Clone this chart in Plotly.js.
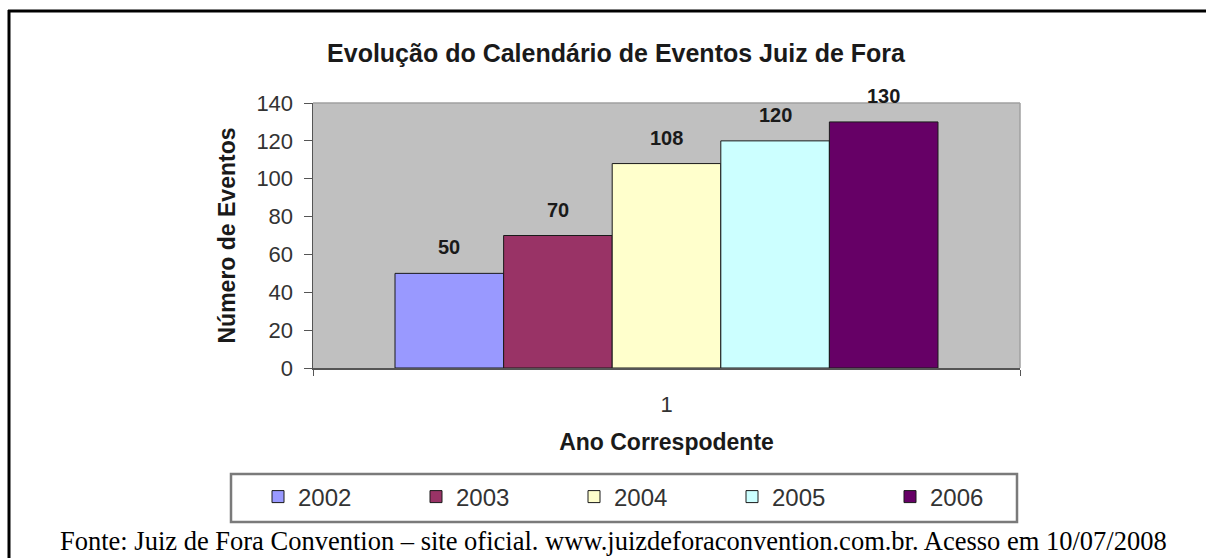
<!DOCTYPE html>
<html>
<head>
<meta charset="utf-8">
<script src="https://cdn.plot.ly/plotly-3.0.1.min.js"></script>
<style>
  html, body { margin: 0; padding: 0; background: #ffffff; }
  #chart { width: 1206px; height: 558px; }
</style>
</head>
<body>
<div id="chart"></div>
<script>
// ---- data ----
const categories = ['1'];
const years = ['2002', '2003', '2004', '2005', '2006'];
const eventos = [50, 70, 108, 120, 130];
const barColors = ['#9999ff', '#993366', '#ffffcc', '#ccffff', '#660066'];
const yTicks = [0, 20, 40, 60, 80, 100, 120, 140];

const titleText = 'Evolução do Calendário de Eventos Juiz de Fora';
const yTitle = 'Número de Eventos';
const xTitle = 'Ano Correspodente';
const footer = 'Fonte: Juiz de Fora Convention – site oficial. www.juizdeforaconvention.com.br. Acesso em 10/07/2008';

// ---- layout geometry ----
const W = 1206, H = 558;
const M = { l: 313, r: 186, t: 103, b: 190 };
const plotW = W - M.l - M.r, plotH = H - M.t - M.b;
const px2x = p => (p - M.l) / plotW;
const px2y = p => (H - M.b - p) / plotH;
const bargap = 0.232;

const FONT = 'Liberation Sans, Arial, sans-serif';

const traces = years.map((yr, i) => ({
  type: 'bar',
  name: yr,
  x: categories,
  y: [eventos[i]],
  marker: { color: barColors[i], line: { color: '#1a1a1a', width: 1 } },
  hoverinfo: 'name+y'
}));

// data labels above bars (position from the group layout)
const groupW = 1 - bargap;
const barW = groupW / years.length;
const annotations = eventos.map((v, i) => ({
  x: -groupW / 2 + (i + 0.5) * barW,
  y: v,
  xref: 'x', yref: 'y',
  text: String(v),
  showarrow: false,
  yanchor: 'middle',
  yshift: 26,
  font: { family: FONT, size: 20, weight: 'bold', color: '#1a1a1a' }
}));

annotations.push({
  xref: 'paper', yref: 'paper',
  x: px2x(613), y: px2y(541),
  xanchor: 'center', yanchor: 'middle',
  text: footer,
  showarrow: false,
  font: { family: 'Liberation Serif, Times New Roman, serif', size: 26.5, color: '#000000' }
});

const shapes = [
  // plot frame (top, right)
  { type: 'line', xref: 'paper', yref: 'paper', x0: 0, x1: 1, y0: 1, y1: 1, line: { color: '#a0a0a0', width: 1.5 } },
  { type: 'line', xref: 'paper', yref: 'paper', x0: 1, x1: 1, y0: 0, y1: 1, line: { color: '#a0a0a0', width: 1.5 } },
  // legend frame
  { type: 'rect', xref: 'paper', yref: 'paper', x0: px2x(231), x1: px2x(1017), y0: px2y(522), y1: px2y(474),
    line: { color: '#7a7a7a', width: 2.5 }, fillcolor: 'rgba(0,0,0,0)' },
  // outer page border (top and left)
  { type: 'line', xref: 'paper', yref: 'paper', x0: px2x(8), x1: px2x(1220), y0: px2y(11), y1: px2y(11), line: { color: '#000000', width: 3 } },
  { type: 'line', xref: 'paper', yref: 'paper', x0: px2x(9), x1: px2x(9), y0: px2y(10), y1: px2y(580), line: { color: '#000000', width: 3 } }
];

const layout = {
  width: W, height: H,
  margin: M,
  paper_bgcolor: '#ffffff',
  plot_bgcolor: '#c0c0c0',
  barmode: 'group',
  bargap: bargap,
  bargroupgap: 0,
  showlegend: true,
  title: {
    text: titleText,
    x: 616 / W, xanchor: 'center',
    y: 1 - 53 / H, yanchor: 'middle',
    font: { family: FONT, size: 25, weight: 'bold', color: '#1a1a1a' }
  },
  xaxis: {
    type: 'category',
    showgrid: false,
    zeroline: false,
    showline: true, linecolor: '#555555', linewidth: 1.5,
    ticks: 'outside', tickson: 'boundaries', ticklen: 6, tickcolor: '#555555',
    ticklabelstandoff: 16,
    tickfont: { family: FONT, size: 22, color: '#333333' },
    title: { text: xTitle, standoff: 18, font: { family: FONT, size: 23, weight: 'bold', color: '#1a1a1a' } },
    fixedrange: true
  },
  yaxis: {
    range: [0, 140],
    tickvals: yTicks,
    showgrid: false,
    zeroline: false,
    showline: true, linecolor: '#555555', linewidth: 1.5,
    ticks: 'outside', ticklen: 8, tickcolor: '#555555',
    ticklabelstandoff: 6,
    tickfont: { family: FONT, size: 22, color: '#333333' },
    title: { text: yTitle, standoff: 14, font: { family: FONT, size: 23, weight: 'bold', color: '#1a1a1a' } },
    fixedrange: true
  },
  legend: {
    orientation: 'h',
    x: px2x(258), xanchor: 'left',
    y: px2y(497), yanchor: 'middle',
    bgcolor: 'rgba(0,0,0,0)',
    borderwidth: 0,
    entrywidth: 113, entrywidthmode: 'pixels',
    traceorder: 'normal',
    font: { family: FONT, size: 24, color: '#333333' }
  },
  annotations: annotations,
  shapes: shapes
};

Plotly.newPlot('chart', traces, layout, { displayModeBar: false, staticPlot: true });
</script>
</body>
</html>
